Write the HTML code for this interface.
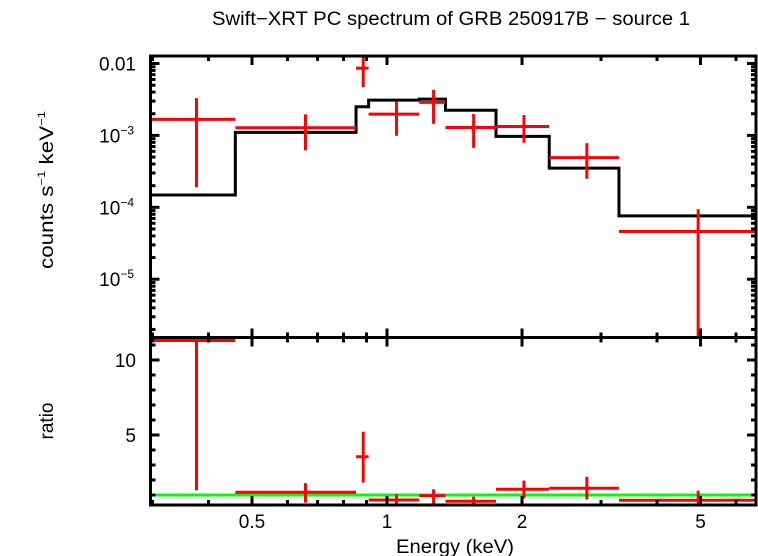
<!DOCTYPE html>
<html><head><meta charset="utf-8"><style>
html,body{margin:0;padding:0;background:#fff;width:758px;height:556px;overflow:hidden}
svg text{font-family:"Liberation Sans",sans-serif;fill:#000}
</style></head><body>
<svg id="c" width="758" height="556" xmlns="http://www.w3.org/2000/svg">
<text x="451" y="25" font-size="19" text-anchor="middle" textLength="478" lengthAdjust="spacingAndGlyphs">Swift−XRT PC spectrum of GRB 250917B − source 1</text>
<text x="455" y="553" font-size="19" text-anchor="middle" textLength="118" lengthAdjust="spacingAndGlyphs">Energy (keV)</text>
<text transform="translate(53,190) rotate(-90)" font-size="19" text-anchor="middle" textLength="158" lengthAdjust="spacingAndGlyphs">counts s<tspan font-size="11" dy="-8">−1</tspan><tspan dy="8"> keV</tspan><tspan font-size="11" dy="-8">−1</tspan></text>
<text transform="translate(53,421) rotate(-90)" font-size="19" text-anchor="middle">ratio</text>
</svg>
<script>
const binLo=[0.296,0.459,0.853,0.91,1.18,1.35,1.75,2.30,3.29];
const binHi=[0.459,0.853,0.91,1.18,1.35,1.75,2.30,3.29,6.6];
const binE=[0.376,0.658,0.885,1.05,1.27,1.56,2.02,2.79,4.94];
const rate=[1.67e-3,1.28e-3,8.6e-3,1.98e-3,2.88e-3,1.29e-3,1.33e-3,4.9e-4,4.6e-5];
const rateHi=[3.3e-3,1.96e-3,1.3e-2,2.94e-3,4.3e-3,1.98e-3,1.92e-3,7.8e-4,9.4e-5];
const rateLo=[1.9e-4,6.2e-4,4.7e-3,9.9e-4,1.45e-3,6.7e-4,7.9e-4,2.5e-4,1e-7];
const modelLo=[0.296,0.459,0.853,0.91,1.18,1.35,1.75,2.30,3.29];
const modelHi=[0.459,0.853,0.91,1.18,1.35,1.75,2.30,3.29,6.6];
const model=[1.48e-4,1.1e-3,2.5e-3,3.1e-3,3.2e-3,2.24e-3,9.7e-4,3.5e-4,7.6e-5];
const ratio=[11.3,1.18,3.55,0.67,0.96,0.58,1.38,1.45,0.65];
const ratioHi=[12,1.79,5.22,1.05,1.38,0.89,1.96,2.21,1.29];
const ratioLo=[1.32,0.49,1.83,0.2,0.38,0.2,0.78,0.71,0.2];
const xMajor=[0.5,1,2,5];
const xMajorLabels=["0.5","1","2","5"];
const xMinor=[0.3,0.4,0.6,0.7,0.8,0.9,3,4,6];
const yTopMajor=[-2,-3,-4,-5];
const yTopLabels=["0.01","10","10","10"];
const yTopExp=["","−3","−4","−5"];
const yRatioMajor=[5,10];
const yRatioLabels=["5","10"];

const L=150.5,R=756,T1=56,B1=337.5,B2=505;
const X=e=>252+448.5*(Math.log10(e)-Math.log10(0.5));
const YT=v=>63.5+71.9*(-2-Math.log10(v));
const YR=r=>360-15*(r-10);
const svg=document.getElementById('c');
const NS='http://www.w3.org/2000/svg';
function mk(t,a,name){const el=document.createElementNS(NS,t);for(const k in a)el.setAttribute(k,a[k]);


svg.appendChild(el);return el;}
const cl=(v,a,b)=>Math.max(a,Math.min(b,v));
function line(x1,y1,x2,y2,col,w,name){return mk('line',{x1,y1,x2,y2,stroke:col,'stroke-width':w},name);}
let d='';
for(let i=0;i<model.length;i++){const y=YT(model[i]);d+=(i?'L':'M')+X(modelLo[i])+','+y+'L'+X(modelHi[i])+','+y;}
mk('path',{d:d,fill:'none',stroke:'#000','stroke-width':3},'model-step-line');
for(let i=0;i<rate.length;i++){
 const y=YT(rate[i]);
 line(cl(X(binLo[i]),L,R),y,cl(X(binHi[i]),L,R),y,'#f00',3,'data-xerr-'+i);
 line(X(binE[i]),cl(YT(rateHi[i]),T1,B1),X(binE[i]),cl(YT(rateLo[i]),T1,B1),'#f00',3,'data-yerr-'+i);
}
line(L,YR(1),R,YR(1),'#0f0',3,'ratio-unity-line');
for(let i=0;i<ratio.length;i++){
 const y=cl(YR(ratio[i]),B1+2,B2);
 line(cl(X(binLo[i]),L,R),y,cl(X(binHi[i]),L,R),y,'#f00',3,'ratio-xerr-'+i);
 line(X(binE[i]),cl(YR(ratioHi[i]),B1,B2),X(binE[i]),cl(YR(ratioLo[i]),B1,B2),'#f00',3,'ratio-yerr-'+i);
}
mk('rect',{x:L,y:T1,width:R-L,height:B1-T1,fill:'none',stroke:'#000','stroke-width':3},'top-panel-frame');
mk('rect',{x:L,y:B1,width:R-L,height:B2-B1,fill:'none',stroke:'#000','stroke-width':3},'bottom-panel-frame');
[[T1,1],[B1,-1],[B1,1],[B2,-1]].forEach(([y0,s])=>{
 xMajor.forEach(e=>line(X(e),y0,X(e),y0+s*9,'#000',3,'x-major-tick'));
 xMinor.forEach(e=>line(X(e),y0,X(e),y0+s*5,'#000',3,'x-minor-tick'));
});
xMajor.forEach((e,i)=>{const t=mk('text',{x:X(e),y:528,'font-size':19,'text-anchor':'middle'},'x-tick-label');t.textContent=xMajorLabels[i];});
for(let dec=-6;dec<=-2;dec++){for(let m=1;m<10;m++){const v=m*Math.pow(10,dec);const y=YT(v);if(y<T1||y>B1)continue;
 const len=m==1?9:5;line(L,y,L+len,y,'#000',3,'y-tick');line(R-len,y,R,y,'#000',3,'y-tick');}}
yTopMajor.forEach((p,i)=>{const t=mk('text',{x:yTopExp[i]?134:136,y:YT(Math.pow(10,p))+7,'font-size':19,'text-anchor':'end'},'y-tick-label');
 t.textContent=yTopLabels[i];if(yTopExp[i]){const s=document.createElementNS(NS,'tspan');s.setAttribute('font-size','12');s.setAttribute('dy','-8');s.textContent=yTopExp[i];t.appendChild(s);}});
for(let r=1;r<=11;r++){const y=YR(r);const len=r%5==0?9:5;line(L,y,L+len,y,'#000',3,'ratio-tick');line(R-len,y,R,y,'#000',3,'ratio-tick');}
yRatioMajor.forEach((r,i)=>{const t=mk('text',{x:136,y:YR(r)+7,'font-size':19,'text-anchor':'end'},'ratio-tick-label');t.textContent=yRatioLabels[i];});
</script>
</body></html>
